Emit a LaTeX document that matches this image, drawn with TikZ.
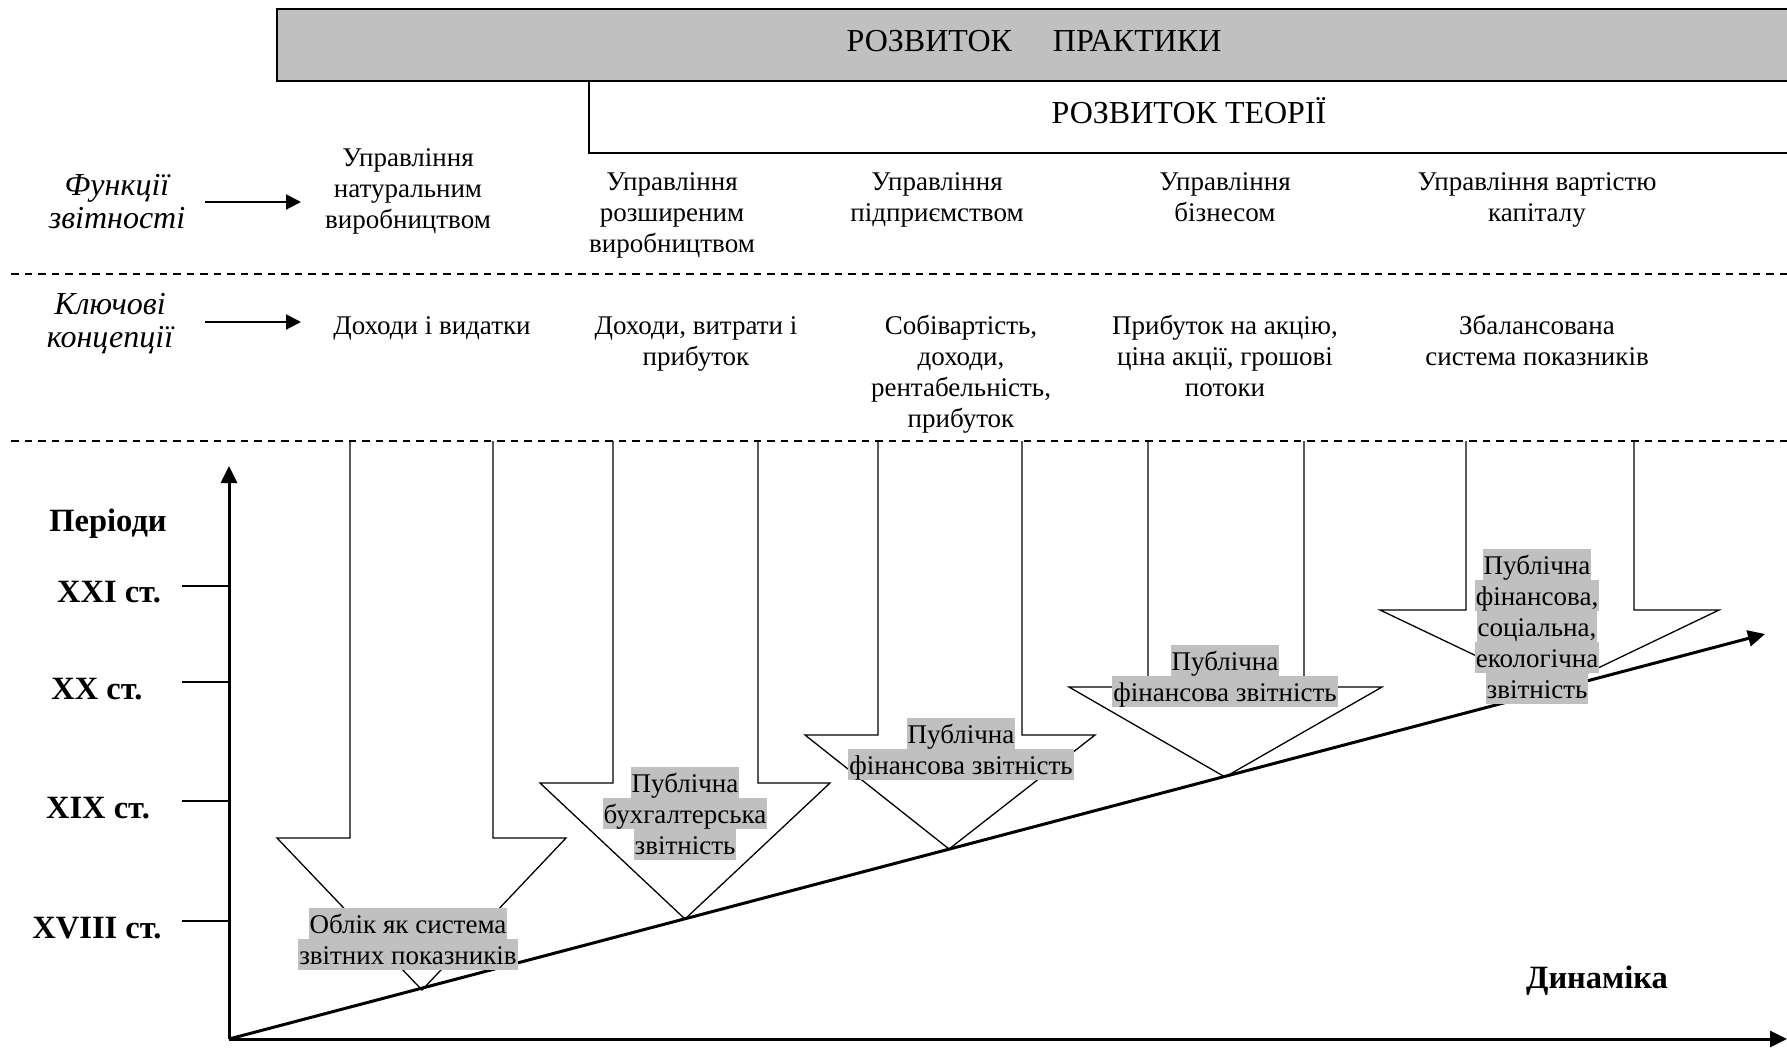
\documentclass[tikz,border=0pt]{standalone}
\usepackage{fontspec}
\setmainfont{Liberation Serif}
\usetikzlibrary{arrows.meta}
\definecolor{hlgray}{HTML}{C0C0C0}
\begin{document}
\begin{tikzpicture}[x=1pt,y=-1pt,
  txt/.style={font=\fontsize{27}{31}\selectfont, align=center, inner sep=0pt, anchor=base},
  head/.style={font=\fontsize{32}{36}\selectfont, inner sep=0pt, anchor=base},
  ital/.style={txt, font=\fontsize{32}{33}\selectfont\itshape},
  bold/.style={font=\fontsize{32.5}{36}\selectfont\bfseries, inner sep=0pt, anchor=base},
  hl/.style={font=\fontsize{27}{31}\selectfont, fill=hlgray, inner xsep=1pt, inner ysep=0pt,
             text height=25pt, text depth=6pt, anchor=base},
  sep/.style={line width=1.5pt, dash pattern=on 7.5pt off 6pt},
  axis/.style={line width=3pt, -{Triangle[length=17pt,width=16pt]}},
  small/.style={line width=2pt, -{Triangle[length=15pt,width=15pt]}},
  block/.style={line width=1.3pt, line join=miter},
  tick/.style={line width=1.8pt}
]
\clip (0,0) rectangle (1787,1050);

% header bars
\draw[fill=hlgray, line width=2.2pt] (277,9) rectangle (1800,81);
\node[head] (prac) at (1034,51) {РОЗВИТОК\hspace{41pt}ПРАКТИКИ};
\draw[line width=2pt] (589,81) -- (589,153) -- (1800,153);
\node[head] (theo) at (1189,123) {РОЗВИТОК ТЕОРІЇ};

% row separators
\draw[sep] (11,274) -- (1787,274);
\draw[sep] (11,441) -- (1787,441);

% row headings (base anchor = last line)
\node[ital] (func) at (117,228) {Функції\\звітності};
\node[ital] (conc) at (110,347) {Ключові\\концепції};
\coordinate (fa) at (205,202); \coordinate (fb) at (301,202);
\coordinate (ca) at (205,322); \coordinate (cb) at (301,322);
\draw[small] (fa) -- (fb);
\draw[small] (ca) -- (cb);

% reporting functions
\node[txt] (f1) at (408,228) {Управління\\натуральним\\виробництвом};
\node[txt] (f2) at (672,252) {Управління\\розширеним\\виробництвом};
\node[txt] (f3) at (937,221) {Управління\\підприємством};
\node[txt] (f4) at (1225,221) {Управління\\бізнесом};
\node[txt] (f5) at (1537,221) {Управління вартістю\\капіталу};

% key concepts
\node[txt] (k1) at (432,334) {Доходи і видатки};
\node[txt] (k2) at (696,365) {Доходи, витрати і\\прибуток};
\node[txt] (k3) at (961,427) {Собівартість,\\доходи,\\рентабельність,\\прибуток};
\node[txt] (k4) at (1225,396) {Прибуток на акцію,\\ціна акції, грошові\\потоки};
\node[txt] (k5) at (1537,365) {Збалансована\\система показників};

% block arrows: shaft, shoulder, head, apex on the trend line
\draw[block] (350,441) -- (350,838) -- (277,838) -- (422,990) -- (566,838) -- (493,838) -- (493,441);
\draw[block] (613,441) -- (613,783) -- (540,783) -- (685,919) -- (830,783) -- (758,783) -- (758,441);
\draw[block] (878,441) -- (878,735) -- (805,735) -- (949,849) -- (1095,735) -- (1022,735) -- (1022,441);
\draw[block] (1148,441) -- (1148,687) -- (1069,687) -- (1225,777) -- (1382,687) -- (1304,687) -- (1304,441);
\draw[block] (1466,441) -- (1466,610) -- (1380,610) -- (1550,691) -- (1719,610) -- (1634,610) -- (1634,441);

% axes
\coordinate (O) at (229,1039);
\coordinate (Ytop) at (229,466);
\coordinate (Xend) at (1787,1039);
\coordinate (Dend) at (1765,634);
\draw[axis] (O) -- (Ytop);
\draw[axis] (O) -- (Xend);
\draw[axis] (O) -- (Dend);

% period scale
\draw[tick] (182,586) -- (229,586);
\draw[tick] (182,682) -- (229,682);
\draw[tick] (182,801) -- (229,801);
\draw[tick] (182,921) -- (229,921);
\node[bold] (per) at (108,531) {Періоди};
\node[bold] (c21) at (109,602) {XXI ст.};
\node[bold] (c20) at (97,699) {XX ст.};
\node[bold] (c19) at (98,818) {XIX ст.};
\node[bold] (c18) at (97,938) {XVIII ст.};
\node[bold] (dyn) at (1597,988) {Динаміка};

% reporting forms
\node[hl] (r1a) at (408,933) {Облік як система};
\node[hl] (r1b) at (408,964) {звітних показників};

\node[hl] (r2a) at (685,792) {Публічна};
\node[hl] (r2b) at (685,823) {бухгалтерська};
\node[hl] (r2c) at (685,854) {звітність};

\node[hl] (r3a) at (961,743) {Публічна};
\node[hl] (r3b) at (961,774) {фінансова звітність};

\node[hl] (r4a) at (1225,670) {Публічна};
\node[hl] (r4b) at (1225,701) {фінансова звітність};

\node[hl] (r5a) at (1537,574) {Публічна};
\node[hl] (r5b) at (1537,605) {фінансова,};
\node[hl] (r5c) at (1537,636) {соціальна,};
\node[hl] (r5d) at (1537,667) {екологічна};
\node[hl] (r5e) at (1537,698) {звітність};
\end{tikzpicture}
\end{document}
